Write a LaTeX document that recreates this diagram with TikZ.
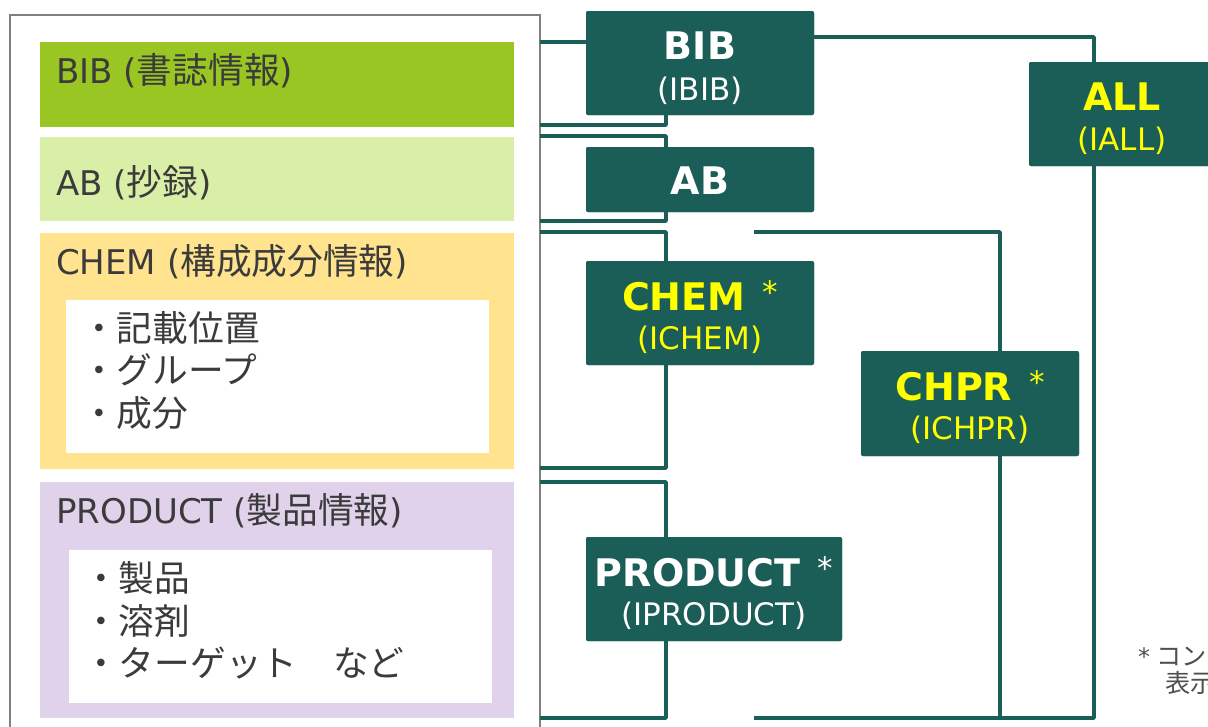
\documentclass[tikz,border=0pt]{standalone}
\usepackage{fontspec}
\setmainfont{DejaVu Sans}
\newfontfamily\jp[Scale=1.05]{Noto Sans CJK JP}
\definecolor{teal1}{HTML}{1A5E57}
\definecolor{bibg}{HTML}{99C623}
\definecolor{abg}{HTML}{D9EEA6}
\definecolor{chemy}{HTML}{FFE38E}
\definecolor{prodv}{HTML}{E1D2EB}
\definecolor{txt}{HTML}{3B3B3B}
\definecolor{yel}{HTML}{FFFF00}
\newcommand\mystar{\hspace{17pt}{\mdseries\fontsize{31}{31}\selectfont\raisebox{7pt}{*}}}
\begin{document}
\begin{tikzpicture}[x=1pt,y=-1pt,
  panel/.style={rectangle, anchor=north west, inner sep=0pt, outer sep=0pt},
  innerbox/.style={panel, fill=white},
  ltext/.style={anchor=base west, inner sep=0pt, text=txt, font=\fontsize{34}{40}\selectfont},
  bul/.style={anchor=base west, inner sep=0pt, text=txt, font=\fontsize{34}{40}\selectfont\jp},
  dbox/.style={rectangle, rounded corners=2pt, fill=teal1, inner sep=0pt, outer sep=0pt, anchor=north west},
  ttl/.style={anchor=base, inner sep=0pt, font=\fontsize{38}{40}\selectfont\bfseries},
  subt/.style={anchor=base, inner sep=0pt, font=\fontsize{31}{36}\selectfont},
  conn/.style={draw=teal1, line width=3.6pt, line join=round},
  ftext/.style={anchor=base west, inner sep=0pt, text=txt!90, font=\fontsize{24}{28}\selectfont},
]
\clip (0,0) rectangle (1208,726);
\fill[white] (0,0) rectangle (1208,726);

% left outer frame and panels
\node[panel, draw=black!50, line width=1.2pt, minimum width=530pt, minimum height=740pt] (outer) at (10,15) {};
\node[panel, fill=bibg, minimum width=474pt, minimum height=85pt] (pbib) at (40,42) {};
\node[panel, fill=abg, minimum width=474pt, minimum height=84pt] (pab) at (40,137) {};
\node[panel, fill=chemy, minimum width=474pt, minimum height=236pt] (pchem) at (40,233) {};
\node[panel, fill=prodv, minimum width=474pt, minimum height=236pt] (pprod) at (40,482) {};
\node[innerbox, minimum width=423pt, minimum height=153pt] (ichem) at (66,300) {};
\node[innerbox, minimum width=423pt, minimum height=153pt] (iprod) at (69,550) {};

\node[ltext] (tbib) at (56,83) {BIB ({\jp 書誌情報})};
\node[ltext] (tab) at (56,195) {AB ({\jp 抄録})};
\node[ltext] (tchem) at (56,274) {CHEM ({\jp 構成成分情報})};
\node[ltext] (tprod) at (56,523) {PRODUCT ({\jp 製品情報})};

\node[bul] (c1) at (81,341) {・記載位置};
\node[bul] (c2) at (81,383.5) {・グループ};
\node[bul] (c3) at (81,426) {・成分};
\node[bul] (p1) at (83,591) {・製品};
\node[bul] (p2) at (83,634) {・溶剤};
\node[bul] (p3) at (83,676) {・ターゲット　など};

% right boxes (shapes first, for connector anchors)
\node[dbox, minimum width=228pt, minimum height=104pt] (bib) at (586,11) {};
\node[dbox, minimum width=228pt, minimum height=65pt] (ab) at (586,147) {};
\node[dbox, minimum width=228pt, minimum height=104pt] (chem) at (586,261) {};
\node[dbox, minimum width=218pt, minimum height=105pt] (chpr) at (861,351) {};
\node[dbox, minimum width=256pt, minimum height=104pt] (prod) at (586,537) {};
\node[dbox, minimum width=186pt, minimum height=104pt] (all) at (1029,62) {};

% connectors
\coordinate (k1) at (1094,37);
\coordinate (k2) at (666,125);
\coordinate (k3) at (666,136);
\coordinate (k4) at (666,221);
\coordinate (k5) at (666,232);
\coordinate (f1) at (754,232);
\coordinate (k7) at (1000,232);
\coordinate (k8) at (666,468);
\coordinate (k9) at (666,482);
\coordinate (k10) at (666,718);
\coordinate (f2) at (754,718);
\coordinate (k11) at (1094,718);
\coordinate (k12) at (1000,718);

\draw[conn] (outer.east |- pbib.north) -- (bib.west |- pbib.north);
\draw[conn] (bib.east |- k1) -- (k1) -- (k1 |- all.north);
\draw[conn] (outer.east |- k2) -- (k2) -- (k2 |- bib.south);
\draw[conn] (outer.east |- k3) -- (k3) -- (k3 |- ab.north);
\draw[conn] (outer.east |- k4) -- (k4) -- (k4 |- ab.south);
\draw[conn] (outer.east |- k5) -- (k5) -- (k5 |- chem.north);
\draw[conn] (f1) -- (k7) -- (k7 |- chpr.north);
\draw[conn] (k8 |- chem.south) -- (k8) -- (outer.east |- k8);
\draw[conn] (outer.east |- k9) -- (k9) -- (k9 |- prod.north);
\draw[conn] (k10 |- prod.south) -- (k10) -- (outer.east |- k10);
\draw[conn] (f2) -- (k11) -- (k11 |- all.south);
\draw[conn] (k12 |- chpr.south) -- (k12);

% redraw boxes on top
\node[dbox, minimum width=228pt, minimum height=104pt] (bibB) at (586,11) {};
\node[dbox, minimum width=228pt, minimum height=65pt] (abB) at (586,147) {};
\node[dbox, minimum width=228pt, minimum height=104pt] (chemB) at (586,261) {};
\node[dbox, minimum width=218pt, minimum height=105pt] (chprB) at (861,351) {};
\node[dbox, minimum width=256pt, minimum height=104pt] (prodB) at (586,537) {};
\node[dbox, minimum width=186pt, minimum height=104pt] (allB) at (1029,62) {};

\node[ttl, text=white] (bibT) at ([yshift=-48pt]bib.north) {BIB};
\node[subt, text=white] (bibS) at ([yshift=-89pt]bib.north) {(IBIB)};
\node[ttl, text=white] (abT) at ([yshift=-47pt]ab.north) {AB};
\node[ttl, text=yel] (chemT) at ([yshift=-49pt]chem.north) {CHEM\mystar};
\node[subt, text=yel] (chemS) at ([yshift=-88pt]chem.north) {(ICHEM)};
\node[ttl, text=yel] (chprT) at ([yshift=-49pt]chpr.north) {CHPR\mystar};
\node[subt, text=yel] (chprS) at ([yshift=-88pt]chpr.north) {(ICHPR)};
\node[ttl, text=white] (prodT) at ([yshift=-49pt]prod.north) {PRODUCT\mystar};
\node[subt, text=white] (prodS) at ([yshift=-88pt]prod.north) {(IPRODUCT)};
\node[ttl, text=yel] (allT) at ([yshift=-48pt]all.north) {ALL};
\node[subt, text=yel] (allS) at ([yshift=-88pt]all.north) {(IALL)};

% footnote
\node[ftext] (fn1) at (1138,665) {*\hspace{6pt}{\jp コン}};
\node[ftext] (fn2) at (1165,692) {\jp 表示};
\end{tikzpicture}
\end{document}
